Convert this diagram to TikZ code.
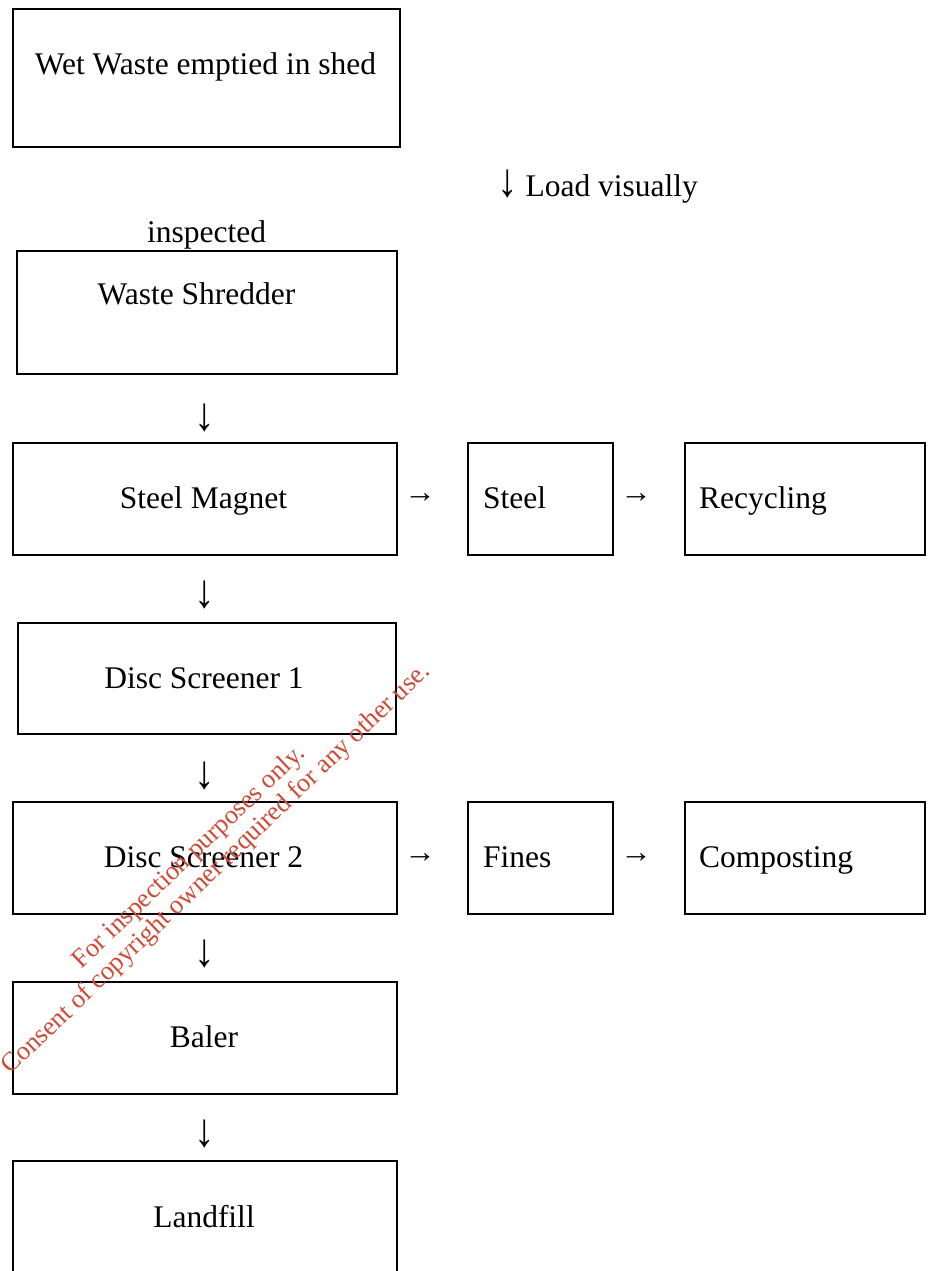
\documentclass[tikz,border=0pt]{standalone}
\usepackage{fontspec}
\usepackage{graphicx}
\setmainfont{Liberation Serif}
\newcommand\mainfs{\fontsize{31.5}{38}\selectfont}
\newcommand\wmfs{\fontsize{26.4}{30}\selectfont}
\newcommand\darr{\scalebox{1.3}[1.5]{↓}}
\definecolor{wmred}{RGB}{206,74,54}
\begin{document}
\begin{tikzpicture}[x=1pt,y=-1pt,
  box/.style={draw, line width=1.9pt, inner sep=0pt, anchor=north west},
  lbl/.style={font=\mainfs, anchor=base, inner sep=0pt},
  lbll/.style={font=\mainfs, anchor=base west, inner sep=0pt},
  glyph/.style={font=\mainfs, inner sep=0pt},
  wm/.style={font=\wmfs, text=wmred, anchor=base, inner sep=0pt, rotate=43.7}]
\useasboundingbox (0,0) rectangle (934,1271);
\clip (0,0) rectangle (934,1271);
% boxes
\node[box, minimum width=387pt, minimum height=138pt] (wet) at (12,8) {};
\node[box, minimum width=380pt, minimum height=123pt] (shred) at (16,250) {};
\node[box, minimum width=384pt, minimum height=112pt] (magnet) at (12,442) {};
\node[box, minimum width=145pt, minimum height=112pt] (steel) at (467,442) {};
\node[box, minimum width=240pt, minimum height=112pt] (recyc) at (684,442) {};
\node[box, minimum width=378pt, minimum height=111pt] (disc1) at (17,622) {};
\node[box, minimum width=384pt, minimum height=112pt] (disc2) at (12,801) {};
\node[box, minimum width=145pt, minimum height=112pt] (fines) at (467,801) {};
\node[box, minimum width=240pt, minimum height=112pt] (compost) at (684,801) {};
\node[box, minimum width=384pt, minimum height=112pt] (baler) at (12,981) {};
\node[box, minimum width=384pt, minimum height=130pt] (landfill) at (12,1160) {};
% labels
\node[lbl] (twet) at (205.5,75) {Wet Waste emptied in shed};
\node[lbll] (tload) at (497,196) {\darr\ Load visually};
\node[lbl] (tinsp) at (206.5,242) {inspected};
\node[lbl] (tshred) at (196.5,304) {Waste Shredder};
\node[lbl] (tmagnet) at (203.5,508) {Steel Magnet};
\node[lbll] (tsteel) at (483,508) {Steel};
\node[lbll] (trecyc) at (699,508) {Recycling};
\node[lbl] (tdisc1) at (204,688) {Disc Screener 1};
\node[lbl] (tdisc2) at (203.5,867) {Disc Screener 2};
\node[lbll] (tfines) at (483,867) {Fines};
\node[lbll] (tcompost) at (699,867) {Composting};
\node[lbl] (tbaler) at (204,1047) {Baler};
\node[lbl] (tland) at (204,1227) {Landfill};
% arrow glyphs
\node[glyph] (d1) at (205,418) {\darr};
\node[glyph] (d2) at (205,595) {\darr};
\node[glyph] (d3) at (205,776) {\darr};
\node[glyph] (d4) at (205,954) {\darr};
\node[glyph] (d5) at (205,1134) {\darr};
\node[glyph] (r1) at (420,498) {→};
\node[glyph] (r2) at (636,498) {→};
\node[glyph] (r3) at (420,858) {→};
\node[glyph] (r4) at (636,858) {→};
% watermark
\node[wm] (wm1) at (194,862) {For inspection purposes only.};
\node[wm] (wm2) at (221,874) {Consent of copyright owner required for any other use.};
\end{tikzpicture}
\end{document}
